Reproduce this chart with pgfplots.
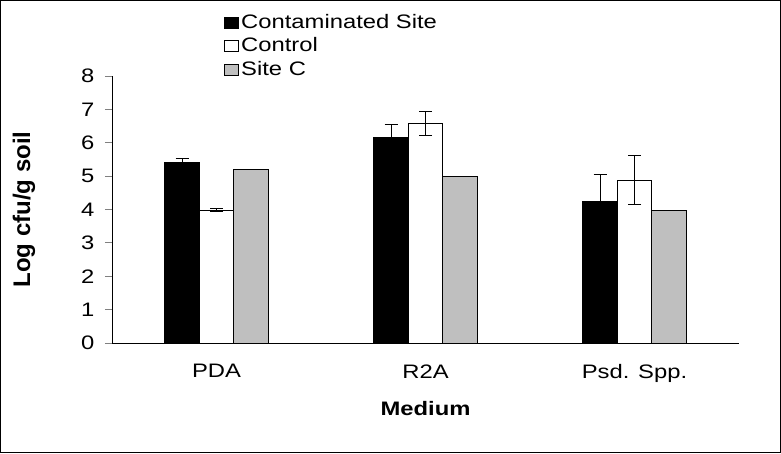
\documentclass[border=0pt]{standalone}
\usepackage{pgfplots}
\pgfplotsset{compat=1.18}
\usepackage{fontspec}
\setmainfont{Liberation Sans}[FakeStretch=1.22]
\newfontfamily\ylabfont{Liberation Sans}
\begin{document}
\begin{tikzpicture}
\useasboundingbox (0pt,0pt) rectangle (781pt,-453pt);
\draw[line width=1pt] (0.5pt,-0.5pt) rectangle (780.5pt,-452.5pt);
\begin{axis}[
  at={(112pt,-343pt)}, anchor=south west,
  scale only axis, width=627pt, height=267pt,
  xmin=-0.5, xmax=2.5, ymin=0, ymax=8,
  axis x line=bottom, axis y line=left,
  axis line style={-, line width=0.8pt},
  ybar=0pt, bar width=34.5pt,
  xtick={0,1,2}, xticklabels={PDA,R2A,Psd. Spp.},
  x tick style={draw=none},
  extra x ticks={-0.5,0.5,1.5,2.5}, extra x tick labels={},
  extra x tick style={major tick length=7pt, tick style={draw=black, line width=0.8pt}, tick align=outside},
  ytick={0,1,...,8},
  y tick style={line width=0.8pt},
  tick align=outside, major tick length=7pt,
  /pgf/number format/assume math mode=true,
  tick label style={font=\fontsize{19.5}{23}\selectfont},
  xticklabel style={yshift=-11pt},
  yticklabel style={xshift=-7pt},
  xlabel={\textbf{Medium}}, ylabel={\ylabfont\bfseries Log cfu/g soil},
  xlabel style={font=\fontsize{19.5}{23}\selectfont, at={(axis description cs:0.5,0)}, anchor=north, yshift=-55pt},
  ylabel style={font=\fontsize{24}{28}\selectfont, at={(axis description cs:-0.1404,0.5)}, anchor=center},
  legend style={draw=none, fill=none, at={(rel axis cs:0.179,1.24)}, anchor=north west,
    font=\fontsize{19.5}{23}\selectfont, row sep=4pt, inner sep=0pt, cells={anchor=west}},
  legend image code/.code={\draw[#1,line width=0.8pt] (0pt,-6pt) rectangle (14pt,5pt);},
  error bars/error bar style={line width=1pt, black},
  error bars/error mark options={rotate=90, mark size=6.5pt, line width=1pt, black},
]
\addplot[fill=black, draw=black, line width=0.8pt,
  error bars/.cd, y dir=both, y explicit]
  coordinates {(0,5.42) +- (0,0.1) (1,6.16) +- (0,0.38) (2,4.25) +- (0,0.79)};
\addplot[fill=white, draw=black, line width=0.8pt,
  error bars/.cd, y dir=both, y explicit]
  coordinates {(0,3.98) +- (0,0.05) (1,6.58) +- (0,0.37) (2,4.88) +- (0,0.74)};
\addplot[fill=black!25, draw=black, line width=0.8pt]
  coordinates {(0,5.2) (1,4.99) (2,3.98)};
\legend{Contaminated Site, Control, Site C}
\end{axis}
\end{tikzpicture}
\end{document}
